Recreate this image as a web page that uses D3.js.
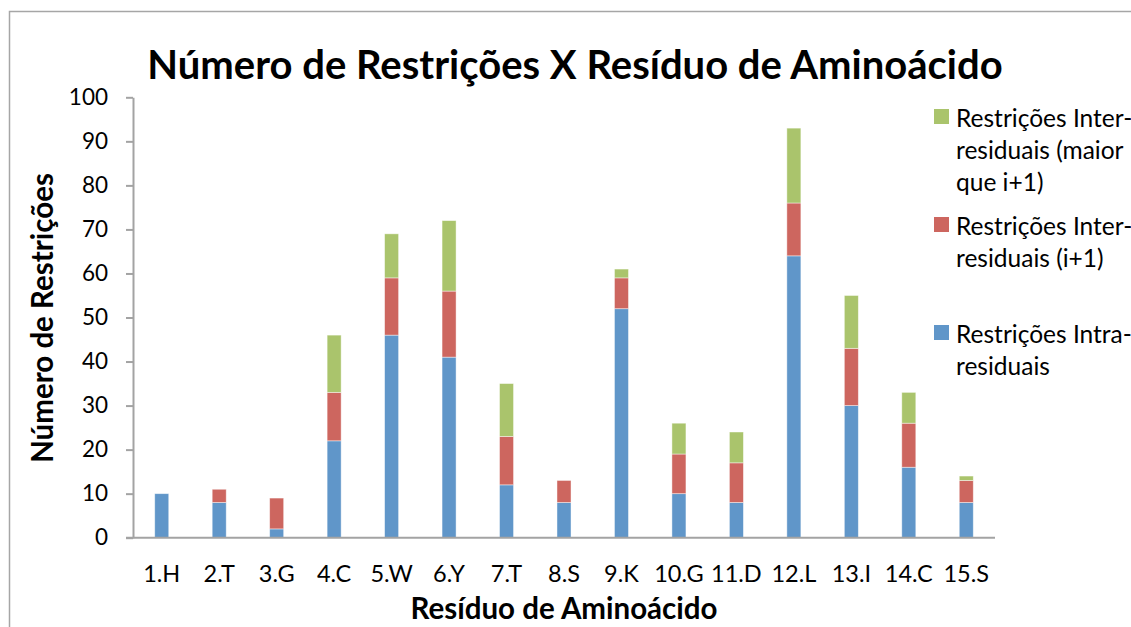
<!DOCTYPE html>
<html>
<head>
<meta charset="utf-8">
<script src="https://cdn.jsdelivr.net/npm/d3@7"></script>
<style>
  html, body { margin: 0; padding: 0; background: #fff; }
  svg { display: block; font-family: Lato, "Open Sans", sans-serif; }
</style>
</head>
<body>
<svg id="chart" width="1131" height="627"></svg>
<script>
// Residues along the peptide chain
const categories = ["1.H", "2.T", "3.G", "4.C", "5.W", "6.Y", "7.T", "8.S", "9.K", "10.G", "11.D", "12.L", "13.I", "14.C", "15.S"];

// Restraint counts per residue, one array per series (stack order: bottom to top)
const intraResidual = [10, 8, 2, 22, 46, 41, 12, 8, 52, 10, 8, 64, 30, 16, 8];
const interSequential = [0, 3, 7, 11, 13, 15, 11, 5, 7, 9, 9, 12, 13, 10, 5];
const interLongRange = [0, 0, 0, 13, 10, 16, 12, 0, 2, 7, 7, 17, 12, 7, 1];

const seriesNames = ["Restrições Intra-residuais", "Restrições Inter-residuais (i+1)", "Restrições Inter-residuais (maior que i+1)"];
const seriesKeys = ["intra", "seq", "long"];
const seriesColors = ["#6096c9", "#cd665f", "#aac46c"];

const yTicks = [0, 10, 20, 30, 40, 50, 60, 70, 80, 90, 100];

const title = "Número de Restrições X Resíduo de Aminoácido";
const xTitle = "Resíduo de Aminoácido";
const yTitle = "Número de Restrições";

// Legend entries top to bottom, each split into its wrapped lines
const legendLines = [
  ["Restrições Inter-", "residuais (maior", "que i+1)"],
  ["Restrições Inter-", "residuais (i+1)"],
  ["Restrições Intra-", "residuais"]
];
const legendColors = ["#aac46c", "#cd665f", "#6096c9"];

const rows = categories.map((c, i) => ({
  cat: c,
  intra: intraResidual[i],
  seq: interSequential[i],
  long: interLongRange[i]
}));

const svg = d3.select("#chart");
const axisColor = "#a3a3a3";

// Outer chart frame
svg.append("rect")
  .attr("x", 9.5).attr("y", 11.5)
  .attr("width", 1300).attr("height", 800)
  .attr("fill", "none")
  .attr("stroke", "#a6a6a6")
  .attr("stroke-width", 1.5);

const plot = { left: 133, right: 995, top: 97.3, bottom: 537.7 };

const x = d3.scaleBand()
  .domain(categories)
  .range([plot.left, plot.right])
  .paddingInner(0.756)
  .paddingOuter(0.378);

const y = d3.scaleLinear()
  .domain([0, 100])
  .range([plot.bottom, plot.top]);

const stack = d3.stack().keys(seriesKeys);
const stacked = stack(rows);

// Stacked bars
const layers = svg.append("g").selectAll("g")
  .data(stacked)
  .join("g")
  .attr("fill", (d, i) => seriesColors[i]);

layers.selectAll("rect")
  .data(d => d.filter(s => s[1] - s[0] > 0))
  .join("rect")
  .attr("x", d => x(d.data.cat))
  .attr("width", x.bandwidth())
  .attr("y", d => y(d[1]))
  .attr("height", d => y(d[0]) - y(d[1]))
  .attr("stroke", "rgba(255,255,255,0.55)")
  .attr("stroke-width", 0.8);

// Y axis
const yAxis = svg.append("g")
  .attr("transform", `translate(${plot.left},0)`)
  .call(d3.axisLeft(y).tickValues(yTicks).tickSize(7).tickPadding(18).tickSizeOuter(0));
yAxis.select(".domain").attr("stroke", axisColor).attr("stroke-width", 2);
yAxis.selectAll(".tick line").attr("stroke", axisColor).attr("stroke-width", 2);
yAxis.selectAll(".tick text")
  .attr("fill", "#000")
  .style("font-size", "22.5px")
  .style("font-family", "Lato, sans-serif");

// X axis
const xAxis = svg.append("g")
  .attr("transform", `translate(0,${plot.bottom})`)
  .call(d3.axisBottom(x).tickSize(0).tickPadding(28).tickSizeOuter(0));
xAxis.select(".domain").attr("stroke", axisColor).attr("stroke-width", 2)
  .attr("d", `M${plot.left - 7},0H${plot.right}`);
xAxis.selectAll(".tick text")
  .attr("fill", "#000")
  .style("font-size", "23.5px")
  .style("font-family", "Lato, sans-serif");

// Titles
svg.append("text")
  .attr("x", 575).attr("y", 79)
  .attr("text-anchor", "middle")
  .style("font-size", "40px")
  .style("font-weight", "bold")
  .text(title);

svg.append("text")
  .attr("x", 564).attr("y", 619)
  .attr("text-anchor", "middle")
  .style("font-size", "29.5px")
  .style("font-weight", "bold")
  .text(xTitle);

svg.append("text")
  .attr("transform", "translate(53,318) rotate(-90)")
  .attr("text-anchor", "middle")
  .style("font-size", "29.5px")
  .style("font-weight", "bold")
  .text(yTitle);

// Legend
const legendTop = [109, 217, 325];
const legend = svg.append("g");
legendLines.forEach((lines, i) => {
  legend.append("rect")
    .attr("x", 934).attr("y", legendTop[i])
    .attr("width", 15).attr("height", 15)
    .attr("fill", legendColors[i]);
  const t = legend.append("text")
    .attr("x", 956)
    .attr("y", legendTop[i] + 18)
    .style("font-size", "24.5px");
  lines.forEach((line, j) => {
    t.append("tspan")
      .attr("x", 956)
      .attr("dy", j === 0 ? 0 : 32)
      .text(line);
  });
});
</script>
</body>
</html>
